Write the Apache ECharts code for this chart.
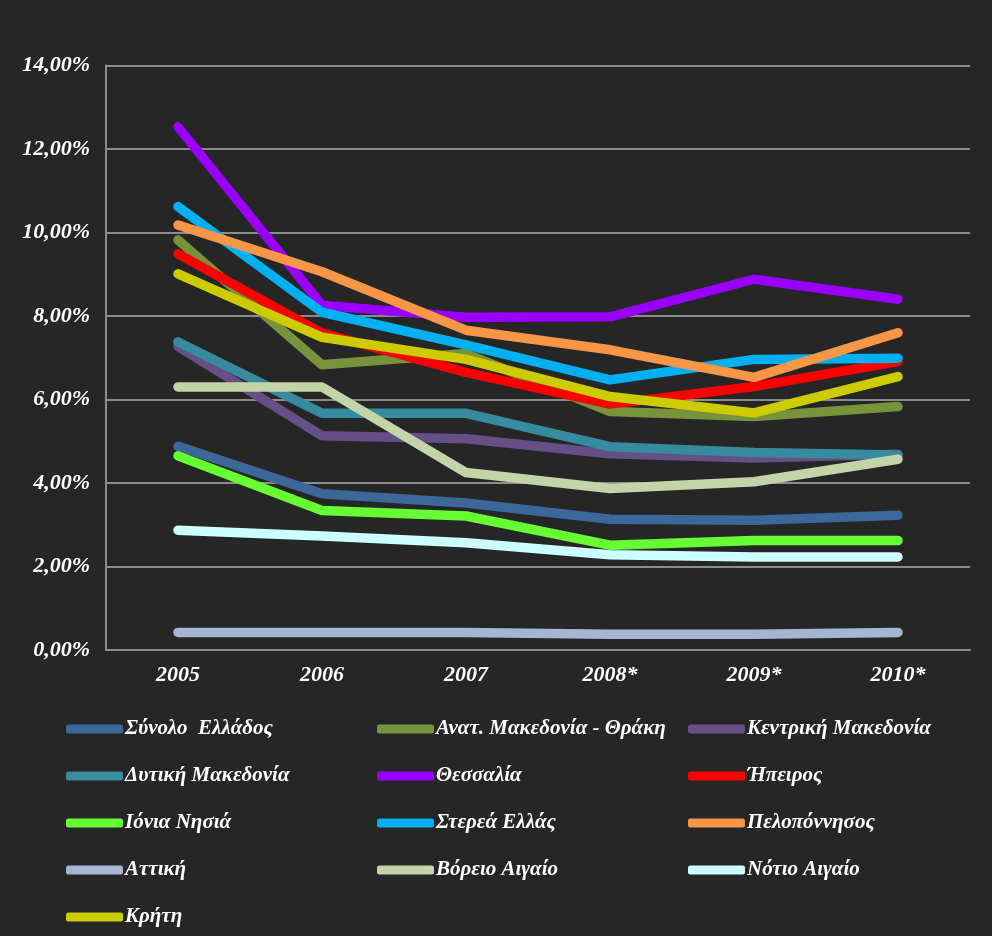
<!DOCTYPE html>
<html>
<head>
<meta charset="utf-8">
<script src="https://cdn.jsdelivr.net/npm/echarts@6/dist/echarts.min.js"></script>
<style>
html,body{margin:0;padding:0;background:#262626;}
#c{width:992px;height:936px;}
</style>
</head>
<body>
<div id="c"></div>
<script>
const categories = ['2005','2006','2007','2008*','2009*','2010*'];
const yTicks = [0,2,4,6,8,10,12,14];

const synoloEllados      = [4.88, 3.74, 3.52, 3.13, 3.11, 3.23];
const anatMakedoniaThraki= [9.82, 6.83, 7.10, 5.71, 5.59, 5.83];
const kentrikiMakedonia  = [7.27, 5.13, 5.06, 4.70, 4.60, 4.69];
const dytikiMakedonia    = [7.38, 5.67, 5.67, 4.87, 4.73, 4.67];
const thessalia          = [12.53, 8.26, 7.97, 7.98, 8.88, 8.40];
const ipeiros            = [9.49, 7.59, 6.65, 5.89, 6.31, 6.91];
const ioniaNisia         = [4.65, 3.34, 3.21, 2.51, 2.62, 2.62];
const stereaEllada       = [10.62, 8.09, 7.31, 6.47, 6.96, 6.99];
const peloponnisos       = [10.18, 9.06, 7.66, 7.19, 6.53, 7.60];
const attiki             = [0.42, 0.42, 0.42, 0.38, 0.38, 0.42];
const voreioAigaio       = [6.30, 6.30, 4.25, 3.87, 4.03, 4.57];
const notioAigaio        = [2.87, 2.73, 2.57, 2.28, 2.23, 2.23];
const kriti              = [9.01, 7.49, 6.96, 6.07, 5.68, 6.55];

const seriesDefs = [
  ['Σύνολο  Ελλάδος', synoloEllados, '#3c679a'],
  ['Ανατ. Μακεδονία - Θράκη', anatMakedoniaThraki, '#77933c'],
  ['Κεντρική Μακεδονία', kentrikiMakedonia, '#664e87'],
  ['Δυτική Μακεδονία', dytikiMakedonia, '#368ba0'],
  ['Θεσσαλία', thessalia, '#9900ff'],
  ['Ήπειρος', ipeiros, '#ff0000'],
  ['Ιόνια Νησιά', ioniaNisia, '#66ff33'],
  ['Στερεά Ελλάς', stereaEllada, '#00b0f0'],
  ['Πελοπόννησος', peloponnisos, '#f79646'],
  ['Αττική', attiki, '#a5b6d4'],
  ['Βόρειο Αιγαίο', voreioAigaio, '#c3d5a8'],
  ['Νότιο Αιγαίο', notioAigaio, '#ccffff'],
  ['Κρήτη', kriti, '#cccc00']
];

const font = {fontFamily:'Liberation Serif', fontWeight:'bold', fontStyle:'italic', color:'#ffffff'};

const col1 = ['Σύνολο  Ελλάδος','Δυτική Μακεδονία','Ιόνια Νησιά','Αττική','Κρήτη'];
const col2 = ['Ανατ. Μακεδονία - Θράκη','Θεσσαλία','Στερεά Ελλάς','Βόρειο Αιγαίο'];
const col3 = ['Κεντρική Μακεδονία','Ήπειρος','Πελοπόννησος','Νότιο Αιγαίο'];

function legend(data, left){
  return {
    data: data, orient:'vertical', left:left, top:717, padding:0,
    icon:'roundRect', itemWidth:57, itemHeight:9, itemGap:23,
    textStyle:Object.assign({fontSize:21, lineHeight:24, padding:[0,0,0,-3]}, font),
    inactiveColor:'#777'
  };
}

const chart = echarts.init(document.getElementById('c'), null, {renderer:'canvas'});
chart.setOption({
  backgroundColor:'#262626',
  animation:false,
  grid:{left:106, right:22, top:65.5, bottom:286, containLabel:false},
  legend:[legend(col1,66), legend(col2,377), legend(col3,688)],
  xAxis:{
    type:'category', data:categories, boundaryGap:true,
    axisLine:{show:true, lineStyle:{color:'#8c8c8c', width:2}},
    axisTick:{show:false},
    axisLabel:Object.assign({fontSize:22, margin:14}, font)
  },
  yAxis:{
    type:'value', min:0, max:14, interval:2,
    axisLine:{show:true, lineStyle:{color:'#8c8c8c', width:2}},
    axisTick:{show:false},
    splitLine:{show:true, lineStyle:{color:'#8c8c8c', width:2}},
    axisLabel:Object.assign({fontSize:22, margin:16,
      formatter:function(v){return v.toFixed(2).replace('.',',')+'%';}}, font)
  },
  series: seriesDefs.map(function(d){
    return {
      name:d[0], type:'line', data:d[1], symbol:'none',
      itemStyle:{color:d[2]},
      lineStyle:{color:d[2], width:9.5, cap:'round', join:'round'}
    };
  })
});
</script>
</body>
</html>
